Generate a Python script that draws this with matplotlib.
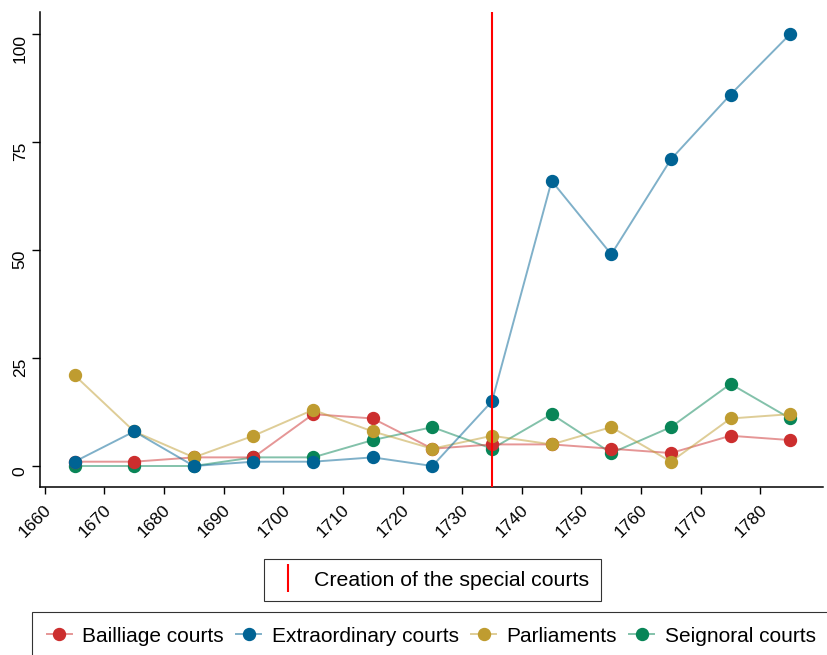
import matplotlib
matplotlib.use('Agg')
import matplotlib.pyplot as plt
from matplotlib.lines import Line2D
from matplotlib.transforms import ScaledTranslation

plt.rcParams['font.family'] = ['Liberation Sans', 'DejaVu Sans']

# data
years = [1665, 1675, 1685, 1695, 1705, 1715, 1725, 1735, 1745, 1755, 1765, 1775, 1785]
bailliage = [1, 1, 2, 2, 12, 11, 4, 5, 5, 4, 3, 7, 6]
extraordinary = [1, 8, 0, 1, 1, 2, 0, 15, 66, 49, 71, 86, 100]
parliaments = [21, 8, 2, 7, 13, 8, 4, 7, 5, 9, 1, 11, 12]
seignoral = [0, 0, 0, 2, 2, 6, 9, 4, 12, 3, 9, 19, 11]
creation_year = 1735
xticks = list(range(1660, 1781, 10))
yticks = [0, 25, 50, 75, 100]

series = [
    ('Bailliage courts', bailliage, (0.80, 0.18, 0.18), 3),
    ('Extraordinary courts', extraordinary, (0.0, 0.39, 0.58), 5),
    ('Parliaments', parliaments, (0.75, 0.61, 0.19), 4),
    ('Seignoral courts', seignoral, (0.03, 0.52, 0.34), 2),
]

fig = plt.figure(figsize=(8.27, 6.55), dpi=100)
ax = fig.add_axes([40 / 827, 1 - 487 / 655, (823 - 40) / 827, (487 - 12) / 655])

handles = []
for name, vals, col, z in series:
    light = col + (0.5,)
    ax.plot(years, vals, color=light, lw=1.4, marker='o', ms=8.6,
            mfc=col, mec=col, zorder=z)
    handles.append(Line2D([], [], color=light, lw=1.4, marker='o', ms=8.6,
                          mfc=col, mec=col, label=name))

ax.axvline(creation_year, color='red', lw=1.5, zorder=10)

ax.set_xlim(1659.2, 1790.5)
ax.set_ylim(-4.86, 105.1)
ax.set_xticks(xticks)
ax.set_yticks(yticks)
ax.spines['top'].set_visible(False)
ax.spines['right'].set_visible(False)
ax.spines['left'].set_linewidth(1.1)
ax.spines['bottom'].set_linewidth(1.1)
ax.tick_params(axis='y', length=6, width=1, pad=5, labelsize=12.5)
ax.tick_params(axis='x', length=5, width=1, pad=10, labelsize=12.5)
for lab in ax.get_yticklabels():
    lab.set_rotation(90)
    lab.set_rotation_mode('anchor')
    lab.set_ha('right')
    lab.set_va('baseline')
shift = ScaledTranslation(4 / 100, 0, fig.dpi_scale_trans)
for lab in ax.get_xticklabels():
    lab.set_rotation(45)
    lab.set_rotation_mode('anchor')
    lab.set_ha('right')
    lab.set_va('center')
    lab.set_transform(lab.get_transform() + shift)

# legend for the vertical line
vline_handle = Line2D([], [], color='red', marker='|', linestyle='None',
                      ms=20, mew=1.5)
leg1 = fig.legend([vline_handle], ['Creation of the special courts'],
                  loc='center', bbox_to_anchor=(432.5 / 827, 1 - 580 / 655),
                  fontsize=15.3, frameon=True, fancybox=False, edgecolor='black',
                  handlelength=1.1, handletextpad=0.7, borderpad=0.55)
leg1.get_frame().set_linewidth(0.8)

leg2 = fig.legend(handles=handles, loc='upper left', ncol=4,
                  bbox_to_anchor=(32 / 827, 1 - 612 / 655),
                  fontsize=15, frameon=True, fancybox=False, edgecolor='black',
                  handlelength=1.2, handletextpad=0.5, columnspacing=0.6,
                  borderpad=0.7, borderaxespad=0)
leg2.get_frame().set_linewidth(0.8)

fig.savefig('out.png', dpi=100)
